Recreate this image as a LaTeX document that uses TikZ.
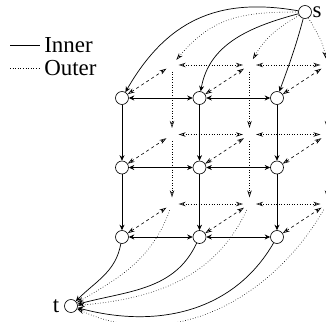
\documentclass[tikz,border=0pt]{standalone}
\usepackage{fontspec}
\setmainfont{Liberation Serif}
\usetikzlibrary{arrows.meta,positioning}
\tikzset{
  vtx/.style={draw,circle,minimum size=13bp,inner sep=0pt,fill=white,line width=0.6bp},
  ghost/.style={circle,minimum size=13bp,inner sep=0pt},
  inarr/.style={-{Stealth[length=5.5bp,width=5bp]},line width=0.7bp},
  inboth/.style={{Stealth[length=5.5bp,width=5bp]}-{Stealth[length=5.5bp,width=5bp]},line width=0.7bp},
  outarr/.style={-{Stealth[open,length=7bp,width=4.5bp]},dotted,line width=0.6bp},
  outboth/.style={{Stealth[open,length=7bp,width=4.5bp]}-{Stealth[open,length=7bp,width=4.5bp]},dotted,line width=0.6bp},
  crossarr/.style={{Stealth[open,length=7bp,width=4.5bp]}-{Stealth[open,length=7bp,width=4.5bp]},dashed,line width=0.6bp},
  lbl/.style={font=\fontsize{23}{23}\selectfont,inner sep=2bp}
}

\begin{document}
\begin{tikzpicture}[x=1bp,y=1bp,node distance=69.5bp and 77.5bp,on grid]
  \useasboundingbox (0,0) rectangle (326,322);

  % legend
  \coordinate (l1a) at (10,277);
  \coordinate (l1b) at (40,277);
  \coordinate (l2a) at (10,254);
  \coordinate (l2b) at (40,254);
  \draw[line width=0.7bp] (l1a) -- (l1b) node[lbl,right=2bp] {Inner};
  \draw[dotted,line width=0.6bp] (l2a) -- (l2b) node[lbl,right=2bp] {Outer};

  % inner grid
  \node[vtx] (f00) at (122,224) {};
  \node[vtx,right=of f00] (f10) {};
  \node[vtx,right=of f10] (f20) {};
  \node[vtx,below=of f00] (f01) {};
  \node[vtx,right=of f01] (f11) {};
  \node[vtx,right=of f11] (f21) {};
  \node[vtx,below=of f01] (f02) {};
  \node[vtx,right=of f02] (f12) {};
  \node[vtx,right=of f12] (f22) {};

  % outer grid, shifted back
  \foreach \c in {0,1,2}
    \foreach \r in {0,1,2}
      \node[ghost,above right=33bp and 50bp of f\c\r] (b\c\r) {};

  \node[vtx] (s) at (305,310) {};
  \node[lbl,right=12bp of s] (slbl) {s};
  \node[vtx] (t) at (71,16) {};
  \node[lbl,left=15bp of t] (tlbl) {t};

  % outer edges
  \foreach \r in {0,1,2} {
    \draw[outboth] (b0\r) -- (b1\r);
    \draw[outboth] (b1\r) -- (b2\r);
  }
  \foreach \c in {0,1,2} {
    \draw[outarr] (b\c0) -- (b\c1);
    \draw[outarr] (b\c1) -- (b\c2);
    \foreach \r in {0,1,2}
      \draw[crossarr] (f\c\r) -- (b\c\r);
  }
  \draw[outarr] (s) to[out=180,in=50,looseness=1.1] (b00);
  \draw[outarr] (s) to[out=210,in=60] (b10);
  \draw[outarr] (s) to[out=300,in=100] (b20);
  \draw[outarr] (b02) to[out=250,in=30] (t);
  \draw[outarr] (b12) to[out=245,in=5] (t);
  \draw[outarr] (b22) to[out=240,in=-25] (t);

  % inner edges
  \foreach \r in {0,1,2} {
    \draw[inboth] (f0\r) -- (f1\r);
    \draw[inboth] (f1\r) -- (f2\r);
  }
  \foreach \c in {0,1,2} {
    \draw[inarr] (f\c0) -- (f\c1);
    \draw[inarr] (f\c1) -- (f\c2);
  }
  \draw[inarr] (s) to[out=170,in=60,looseness=1.1] (f00);
  \draw[inarr] (s) to[out=195,in=80] (f10);
  \draw[inarr] (s) to[out=255,in=70] (f20);
  \draw[inarr] (f02) to[out=260,in=45] (t);
  \draw[inarr] (f12) to[out=245,in=15] (t);
  \draw[inarr] (f22) to[out=240,in=-15] (t);
\end{tikzpicture}
\end{document}
